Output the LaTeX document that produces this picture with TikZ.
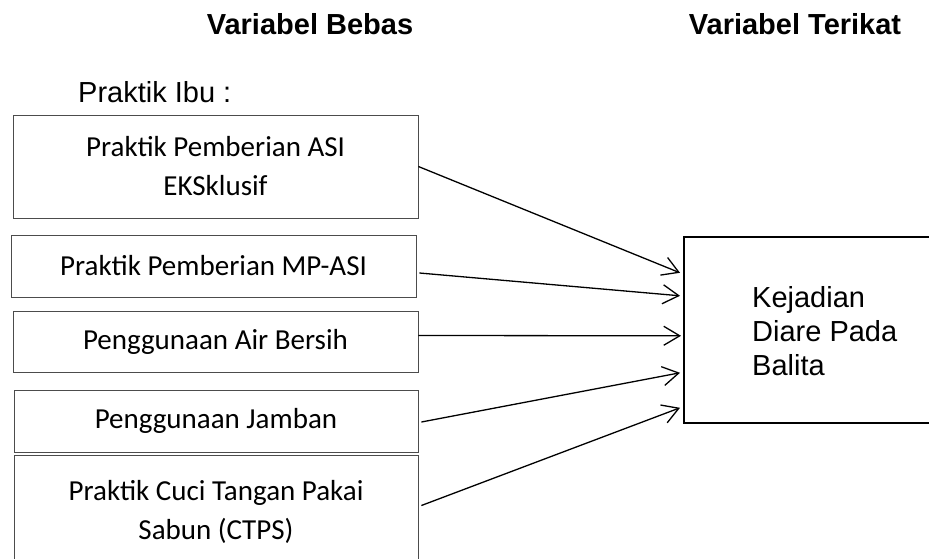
\documentclass[tikz,border=0pt]{standalone}
\usepackage{fontspec}
\setmainfont{Liberation Sans}
\newfontfamily\calib{Carlito}
\usetikzlibrary{arrows.meta,calc}
\begin{document}
\begin{tikzpicture}[x=1pt,y=-1pt,
  varbox/.style={draw=black!70,line width=0.8pt,rectangle,inner sep=0pt,align=center,
    font=\calib\fontsize{29}{39}\selectfont},
  title/.style={font=\bfseries\fontsize{29}{34}\selectfont,inner sep=0pt,anchor=base},
  arr/.style={line width=1.3pt,-{Straight Barb[length=16pt,width=19pt,line width=1.3pt]}}]
\useasboundingbox (0,0) rectangle (929,559);
\node[title] (tb) at (310,35) {Variabel Bebas};
\node[title] (tt) at (795,35) {Variabel Terikat};
\node[font=\fontsize{29}{34}\selectfont,inner sep=0pt,anchor=base west] (ibu) at (78,103) {Praktik Ibu :};
\node[varbox,minimum width=405pt,minimum height=103pt] (b1) at (215.5,166.5) {Praktik Pemberian ASI\\EKSklusif};
\node[varbox,minimum width=405pt,minimum height=62pt] (b2) at (213.5,266) {Praktik Pemberian MP-ASI};
\node[varbox,minimum width=405pt,minimum height=61pt] (b3) at (215.5,341.5) {Penggunaan Air Bersih};
\node[varbox,minimum width=404pt,minimum height=62pt] (b4) at (216,421) {Penggunaan Jamban};
\node[varbox,minimum width=404pt,minimum height=113pt] (b5) at (216,511.5) {Praktik Cuci Tangan Pakai\\Sabun (CTPS)};
\node[draw=black,line width=1.6pt,rectangle,inner sep=0pt,minimum width=280pt,minimum height=186pt,anchor=north west] (t) at (683,236) {};
\node[font=\fontsize{29}{34}\selectfont,align=left,inner sep=0pt,anchor=west] (tl) at (752,331) {Kejadian\\Diare Pada\\Balita};
\draw[arr] (b1.east) -- ($(t.west)+(-3,-57)$);
\draw[arr] ($(b2.east)+(3,7)$) -- ($(t.west)+(-3,-34)$);
\draw[arr] ($(b3.east)+(0,-6)$) -- ($(t.west)+(-2,6)$);
\draw[arr] ($(b4.east)+(3,1)$) -- ($(t.west)+(-3,43)$);
\draw[arr] ($(b5.east)+(3,-6)$) -- ($(t.west)+(-3,78)$);
\end{tikzpicture}
\end{document}
